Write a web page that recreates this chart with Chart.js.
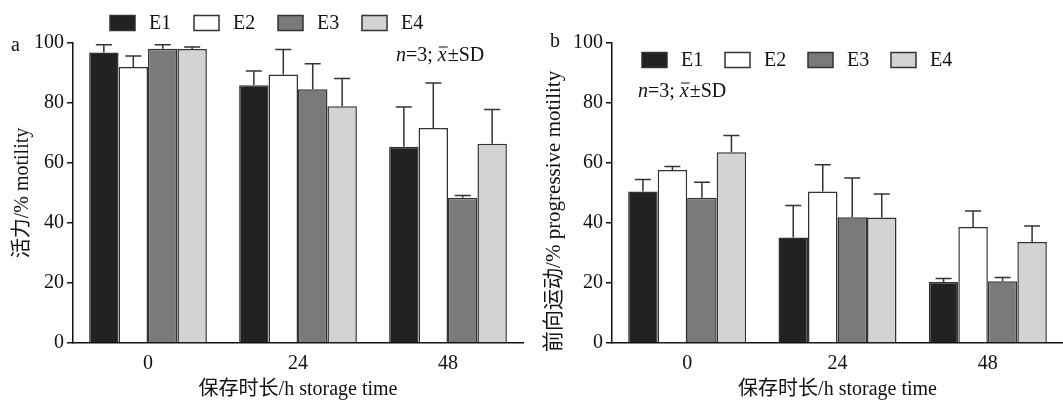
<!DOCTYPE html>
<html>
<head>
<meta charset="utf-8">
<script src="https://cdn.jsdelivr.net/npm/chart.js@4"></script>
<style>
  body { margin: 0; background: #fff; }
  #wrap { position: relative; width: 1063px; height: 403px; }
  canvas { position: absolute; top: 0; }
</style>
</head>
<body>
<div id="wrap">
  <canvas id="chartA" width="530" height="403" style="left:0"></canvas>
  <canvas id="chartB" width="533" height="403" style="left:530px"></canvas>
</div>
<script>
const labels = ['0', '24', '48'];
const groups = ['E1', 'E2', 'E3', 'E4'];

// panel a: motility (mean, SD)
const motE1 = [96.8, 85.9, 65.4];
const motE2 = [92.0, 89.5, 71.7];
const motE3 = [98.1, 84.6, 48.4];
const motE4 = [98.0, 78.9, 66.4];
const motSdE1 = [2.6, 4.8, 13.3];
const motSdE2 = [3.7, 8.3, 15.0];
const motSdE3 = [1.3, 8.5, 0.8];
const motSdE4 = [0.7, 9.3, 11.4];

// panel b: progressive motility (mean, SD)
const progE1 = [50.5, 35.2, 20.3];
const progE2 = [57.7, 50.5, 38.7];
const progE3 = [48.4, 41.9, 20.6];
const progE4 = [63.6, 41.8, 33.7];
const progSdE1 = [4.0, 10.6, 1.2];
const progSdE2 = [1.1, 8.9, 5.3];
const progSdE3 = [5.2, 13.1, 1.2];
const progSdE4 = [5.6, 7.9, 5.3];

const fills = ['#222222', '#ffffff', '#7a7a7a', '#d3d3d3'];
const FONT = "'Liberation Serif', 'Noto Sans CJK SC', serif";

function makeDatasets(means, sds) {
  return means.map((m, i) => ({
    label: groups[i],
    data: m,
    sd: sds[i],
    backgroundColor: fills[i],
    borderColor: '#333333',
    borderWidth: 1.5,
    barPercentage: 1.0,
    categoryPercentage: 0.785,
  }));
}

// error bars: upward only
const errorBars = {
  id: 'errorBars',
  afterDatasetsDraw(chart) {
    const ctx = chart.ctx;
    const y = chart.scales.y;
    ctx.save();
    ctx.strokeStyle = '#333333';
    ctx.lineWidth = 1.5;
    chart.data.datasets.forEach((ds, di) => {
      const meta = chart.getDatasetMeta(di);
      meta.data.forEach((bar, j) => {
        const top = y.getPixelForValue(ds.data[j] + ds.sd[j]);
        ctx.beginPath();
        ctx.moveTo(bar.x, bar.y);
        ctx.lineTo(bar.x, top);
        ctx.moveTo(bar.x - 8, top);
        ctx.lineTo(bar.x + 8, top);
        ctx.stroke();
      });
    });
    ctx.restore();
  }
};

// legend + panel letter + n note
const extras = {
  id: 'extras',
  afterDraw(chart, args, opts) {
    const ctx = chart.ctx;
    ctx.save();
    ctx.font = '20px ' + FONT;
    ctx.textBaseline = 'middle';
    ctx.fillStyle = '#111';
    // panel letter
    ctx.fillText(opts.letter, opts.letterX, opts.letterY);
    // legend
    chart.data.datasets.forEach((ds, i) => {
      const x = opts.legX + i * opts.legStep;
      const yy = opts.legY;
      ctx.fillStyle = ds.backgroundColor;
      ctx.fillRect(x, yy - 7.5, 25, 15);
      ctx.strokeStyle = '#333';
      ctx.lineWidth = 1.5;
      ctx.strokeRect(x, yy - 7.5, 25, 15);
      ctx.fillStyle = '#111';
      ctx.fillText(ds.label, x + 39, yy + 1);
    });
    // n=3; x̄±SD
    let x = opts.noteX;
    const yy = opts.noteY;
    const parts = [['italic ', 'n'], ['', '=3; '], ['italic ', 'x'], ['', '±SD']];
    parts.forEach(([st, t]) => {
      ctx.font = st + '20px ' + FONT;
      const w = ctx.measureText(t).width;
      ctx.fillText(t, x, yy);
      if (t === 'x') {
        ctx.beginPath();
        ctx.lineWidth = 1;
        ctx.strokeStyle = '#111';
        ctx.moveTo(x + 1, yy - 9);
        ctx.lineTo(x + w + 1, yy - 9);
        ctx.stroke();
      }
      x += w + (t === 'x' ? 1 : 0);
    });
    ctx.restore();
  }
};

function makeChart(id, means, sds, yTitle, titleSize, titlePad, yWidth, padRight, extraOpts) {
  return new Chart(document.getElementById(id), {
    type: 'bar',
    data: { labels, datasets: makeDatasets(means, sds) },
    plugins: [errorBars, extras],
    options: {
      responsive: false,
      animation: false,
      devicePixelRatio: 1,
      layout: { padding: { top: 43, right: padRight, left: 0, bottom: 0 } },
      plugins: {
        legend: { display: false },
        tooltip: { enabled: false },
        extras: extraOpts,
      },
      scales: {
        x: {
          grid: { display: false },
          border: { color: '#111', width: 1.5 },
          ticks: { color: '#111', font: { family: FONT, size: 20 }, padding: 1 },
          title: {
            display: true, text: '保存时长/h storage time', color: '#111',
            font: { family: FONT, size: 20 }, padding: { top: 0, bottom: 1 }
          },
          afterFit(s) { s.height = 60; }
        },
        y: {
          min: 0, max: 100,
          ticks: { stepSize: 20, color: '#111', font: { family: FONT, size: 20 }, padding: 3 },
          grid: { drawOnChartArea: false, drawTicks: true, tickLength: 6, color: '#111', lineWidth: 1.5 },
          border: { color: '#111', width: 1.5 },
          title: {
            display: true, text: yTitle, color: '#111',
            font: { family: FONT, size: titleSize }, padding: { top: titlePad, bottom: 0 }
          },
          afterFit(s) { s.width = yWidth; }
        }
      }
    }
  });
}

makeChart('chartA', [motE1, motE2, motE3, motE4], [motSdE1, motSdE2, motSdE3, motSdE4],
  '活力/% motility', 20, 11, 73, 7,
  { letter: 'a', letterX: 11, letterY: 46, legX: 110, legStep: 84, legY: 23, noteX: 396, noteY: 56 });

makeChart('chartB', [progE1, progE2, progE3, progE4], [progSdE1, progSdE2, progSdE3, progSdE4],
  '前向运动/% progressive motility       ', 21, 12, 82, 0,
  { letter: 'b', letterX: 20, letterY: 42, legX: 112, legStep: 83, legY: 60, noteX: 108, noteY: 92 });
</script>
</body>
</html>
